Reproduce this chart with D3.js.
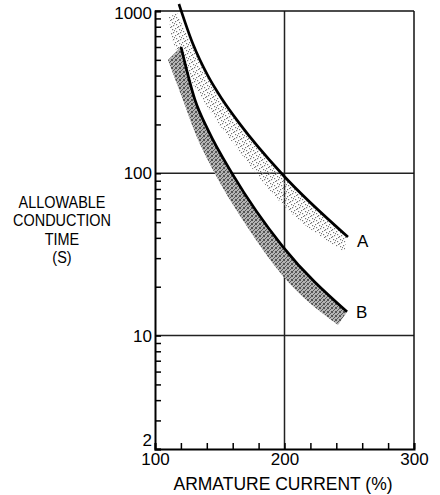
<!DOCTYPE html>
<html>
<head>
<meta charset="utf-8">
<script src="https://cdn.jsdelivr.net/npm/d3@7"></script>
<style>
  body { margin: 0; background: #fff; }
  svg text { font-family: "Liberation Sans", Arial, Helvetica, sans-serif; fill: #000; }
</style>
</head>
<body>
<svg id="chart" width="440" height="495"></svg>
<script>
// curve A / curve B: [armature current %, allowable time s]
var lineA = [[118.5, 1104], [129.3, 626], [140.9, 398], [151.7, 287], [165.6, 201], [198.1, 99], [249.0, 40.5]];
var lineB = [[120.1, 600], [130.9, 283], [140.9, 185], [160.2, 97.7], [198.8, 35.2], [248.3, 14.0]];

// shaded bands, upper and lower edge
var bandAUpper = [[117.0, 972], [127.8, 626], [139.4, 398], [150.2, 287], [164.1, 201], [196.5, 99], [247.5, 41.1]];
var bandALower = [[110.8, 918], [112.4, 711], [115.4, 600], [137.1, 283], [165.6, 135], [198.8, 63.8], [246.7, 32.7]];
var bandBUpper = lineB;
var bandBLower = [[110.0, 499], [121.6, 283], [130.1, 185], [144.8, 104.8], [170.3, 48.0], [198.1, 23.6], [241.3, 11.6]];

var xTicks = [100, 120, 140, 160, 180, 200, 220, 240, 260, 280, 300];
var xLabels = [100, 200, 300];
var yTicks = [2, 3, 4, 5, 6, 7, 8, 9, 10, 20, 30, 40, 50, 60, 70, 80, 90, 100,
  200, 300, 400, 500, 600, 700, 800, 900, 1000];
var yLabels = [2, 10, 100, 1000];
var xGrid = [200];
var yGrid = [10, 100];
var yTitle = ["ALLOWABLE", "CONDUCTION", "TIME", "(S)"];
var xTitle = "ARMATURE CURRENT (%)";
var curveNames = ["A", "B"];

var svg = d3.select("#chart");
var x = d3.scaleLinear().domain([100, 300]).range([155, 414]);
var y = d3.scaleLog().domain([2, 1000]).range([449, 11]);

// stipple patterns
var defs = svg.append("defs");
var pa = defs.append("pattern").attr("id", "dotsA").attr("patternUnits", "userSpaceOnUse")
  .attr("width", 7).attr("height", 7);
[[0, 0], [4, 1], [1, 3], [5, 4], [2, 6], [6, 2], [3, 5]].forEach(function (p) {
  pa.append("rect").attr("x", p[0]).attr("y", p[1]).attr("width", 1.2).attr("height", 1.2).attr("fill", "#777");
});
var pb = defs.append("pattern").attr("id", "dotsB").attr("patternUnits", "userSpaceOnUse")
  .attr("width", 4).attr("height", 4);
pb.append("rect").attr("width", 4).attr("height", 4).attr("fill", "#b4b4b4");
[[0, 0], [2, 1], [1, 2], [3, 3], [0, 3], [3, 0]].forEach(function (p) {
  pb.append("rect").attr("x", p[0]).attr("y", p[1]).attr("width", 1).attr("height", 1).attr("fill", "#555");
});

// grid
svg.selectAll(".vgrid").data(xGrid).enter().append("line")
  .attr("x1", function (d) { return x(d); }).attr("x2", function (d) { return x(d); })
  .attr("y1", y(1000)).attr("y2", y(2))
  .attr("stroke", "#222").attr("stroke-width", 1.5);
svg.selectAll(".hgrid").data(yGrid).enter().append("line")
  .attr("x1", x(100)).attr("x2", x(300))
  .attr("y1", function (d) { return y(d); }).attr("y2", function (d) { return y(d); })
  .attr("stroke", "#222").attr("stroke-width", 1.5);

// frame top / right
svg.append("line").attr("x1", x(100)).attr("x2", x(300)).attr("y1", y(1000)).attr("y2", y(1000))
  .attr("stroke", "#111").attr("stroke-width", 1.5);
svg.append("line").attr("x1", x(300)).attr("x2", x(300)).attr("y1", y(1000)).attr("y2", y(2))
  .attr("stroke", "#111").attr("stroke-width", 1.5);

var line = d3.line().x(function (d) { return x(d[0]); }).y(function (d) { return y(d[1]); })
  .curve(d3.curveMonotoneX);

function bandPath(up, lo) {
  var back = line(lo.slice().reverse()).replace(/^M/, "L");
  return line(up) + back + "Z";
}

svg.append("path").attr("d", bandPath(bandAUpper, bandALower)).attr("fill", "url(#dotsA)");
svg.append("path").attr("d", bandPath(bandBUpper, bandBLower)).attr("fill", "url(#dotsB)");

svg.selectAll(".curve").data([lineA, lineB]).enter().append("path")
  .attr("d", line).attr("fill", "none").attr("stroke", "#000").attr("stroke-width", 2.7);

// curve labels
var nameDy = [10, 6];
svg.selectAll(".cname").data([lineA, lineB]).enter().append("text")
  .attr("x", function (d) { return x(d[d.length - 1][0]) + 9; })
  .attr("y", function (d, i) { return y(d[d.length - 1][1]) + nameDy[i]; })
  .attr("font-size", 17)
  .text(function (d, i) { return curveNames[i]; });

// axes
var yAxis = d3.axisLeft(y).tickValues(yTicks).tickSize(-6).tickPadding(3)
  .tickFormat(function (d) { return yLabels.indexOf(d) >= 0 ? d : ""; });
var gy = svg.append("g").attr("transform", "translate(" + x(100) + ",0)").call(yAxis);
gy.select(".domain").attr("stroke-width", 2).attr("stroke", "#000");
gy.selectAll(".tick line").attr("stroke-width", 1.5);
gy.selectAll("text").attr("font-size", 17).attr("fill", "#000")
  .attr("dy", function (d) { return d === 2 ? "-0.18em" : d === 1000 ? "0.45em" : "0.32em"; });

var xAxis = d3.axisBottom(x).tickValues(xTicks).tickSize(-6).tickPadding(4)
  .tickFormat(function (d) { return xLabels.indexOf(d) >= 0 ? d : ""; });
var gx = svg.append("g").attr("transform", "translate(0," + y(2) + ")").call(xAxis);
gx.select(".domain").attr("stroke-width", 2).attr("stroke", "#000");
gx.selectAll(".tick line").attr("stroke-width", 1.5);
gx.selectAll("text").attr("font-size", 17).attr("fill", "#000");

// titles
svg.append("text").attr("x", 283).attr("y", 490).attr("text-anchor", "middle")
  .attr("font-size", 17.5).text(xTitle);
var yt = svg.append("g").attr("transform", "translate(62,0) scale(0.85,1)");
yt.selectAll("text").data(yTitle).enter().append("text")
  .attr("x", 0).attr("y", function (d, i) { return 208 + i * 18.3; })
  .attr("text-anchor", "middle").attr("font-size", 17).text(function (d) { return d; });
</script>
</body>
</html>
